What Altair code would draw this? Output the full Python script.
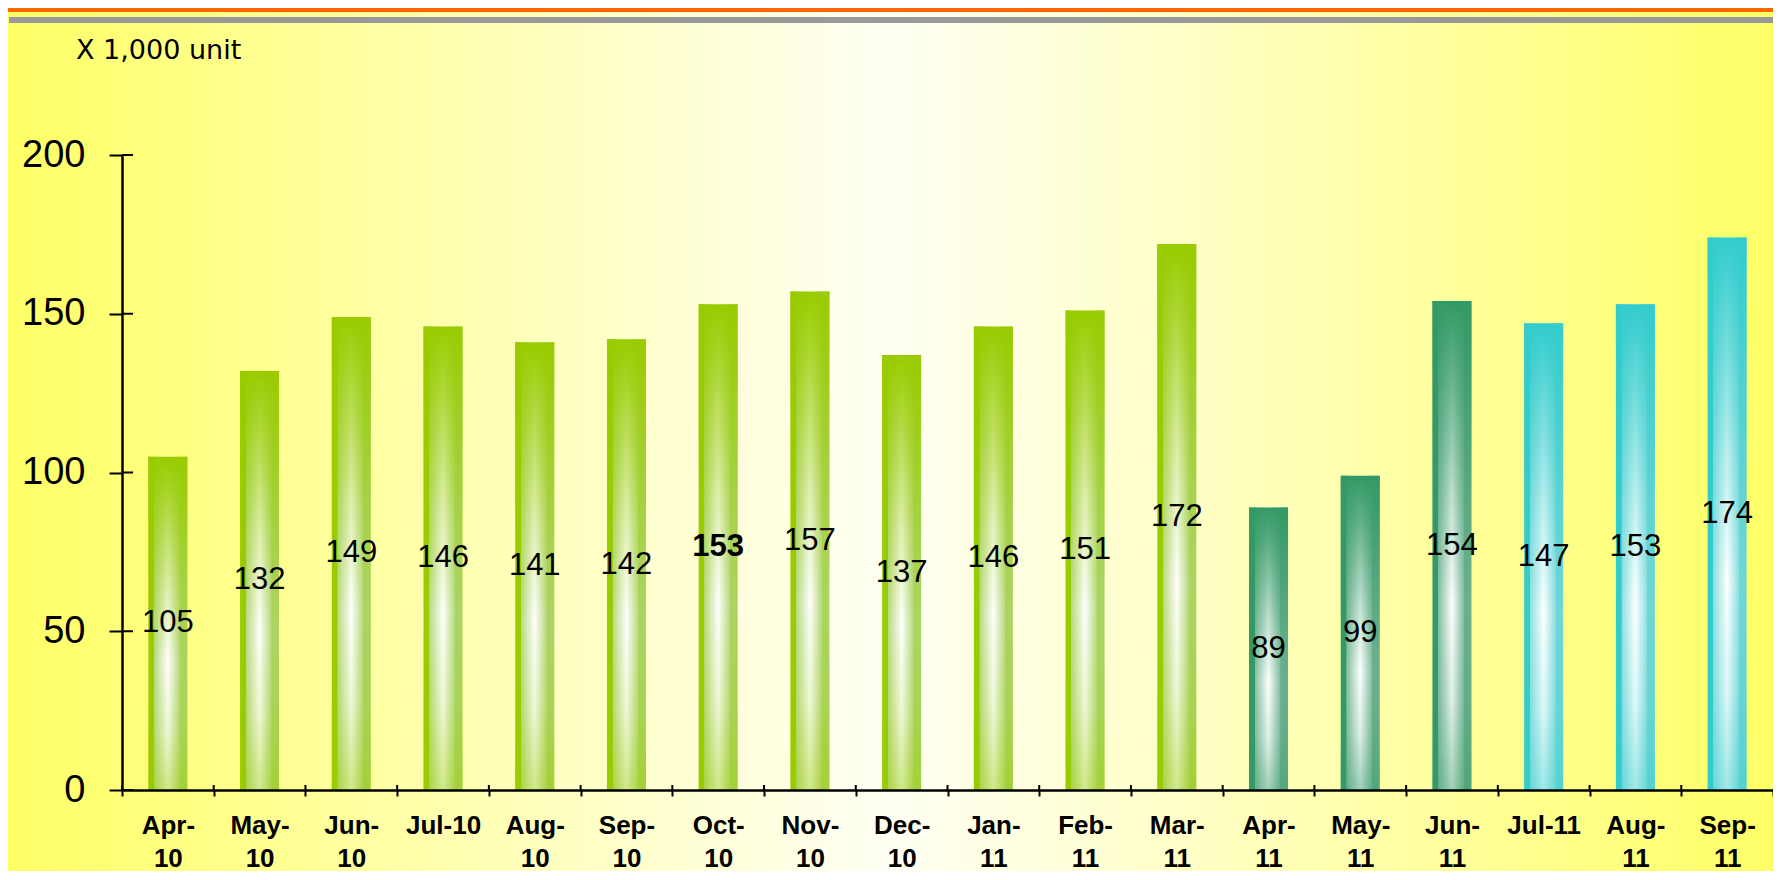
import altair as alt
import pandas as pd

# ---- data ----
months = ["Apr-10", "May-10", "Jun-10", "Jul-10", "Aug-10", "Sep-10", "Oct-10", "Nov-10",
          "Dec-10", "Jan-11", "Feb-11", "Mar-11", "Apr-11", "May-11", "Jun-11", "Jul-11",
          "Aug-11", "Sep-11"]
values = [105, 132, 149, 146, 141, 142, 153, 157, 137, 146, 151, 172, 89, 99, 154, 147, 153, 174]
groups = ["g1", "g1", "g1", "g1", "g1", "g1", "g1", "g1", "g1", "g1", "g1", "g1",
          "g2", "g2", "g2", "g3", "g3", "g3"]
single_line_labels = ["Jul-10", "Jul-11"]
bold_labels = ["Oct-10"]
y_ticks = [0, 50, 100, 150, 200]
unit_text = "X 1,000 unit"

df = pd.DataFrame({"month": months, "value": values, "grp": groups})

W, H = 1651, 635
PAD_L, PAD_T, PAD_B = 114, 147, 81

# ---- styling ----
palette = {
    "g1": {"c": "#99cc00", "rgb": (153, 204, 0), "edge": "#b8da80", "right": "#acd463"},
    "g2": {"c": "#339966", "rgb": (51, 153, 102), "edge": "#86bfa2", "right": "#6cb08d"},
    "g3": {"c": "#33cccc", "rgb": (51, 204, 204), "edge": "#8fe0e0", "right": "#70d6d6"},
}


def hgrad(p):
    return {
        "gradient": "linear", "x1": 0, "x2": 1, "y1": 0, "y2": 0,
        "stops": [
            {"offset": 0.0, "color": p["c"]},
            {"offset": 0.14, "color": p["c"]},
            {"offset": 0.15, "color": p["edge"]},
            {"offset": 0.5, "color": "#ffffff"},
            {"offset": 0.8, "color": p["edge"]},
            {"offset": 0.81, "color": p["right"]},
            {"offset": 1.0, "color": p["right"]},
        ],
    }


def vgrad(p):
    r, g, b = p["rgb"]

    def rgba(a):
        return f"rgba({r},{g},{b},{a})"
    return {
        "gradient": "linear", "x1": 0, "x2": 0, "y1": 0, "y2": 1,
        "stops": [
            {"offset": 0.0, "color": rgba(1.0)},
            {"offset": 0.12, "color": rgba(0.8)},
            {"offset": 0.4, "color": rgba(0.3)},
            {"offset": 0.62, "color": rgba(0.0)},
            {"offset": 0.82, "color": rgba(0.15)},
            {"offset": 1.0, "color": rgba(0.45)},
        ],
    }


bg_grad = {
    "gradient": "linear", "x1": 0, "x2": 1, "y1": 0, "y2": 0,
    "stops": [
        {"offset": 0.0, "color": "#ffff66"},
        {"offset": 0.25, "color": "#ffffb0"},
        {"offset": 0.5, "color": "#fffff4"},
        {"offset": 0.75, "color": "#ffffb0"},
        {"offset": 1.0, "color": "#ffff66"},
    ],
}

single_list = "[" + ",".join(f"'{s}'" for s in single_line_labels) + "]"
label_expr = ("datum.value == null ? '' : "
              f"indexof({single_list}, datum.value) >= 0 ? datum.value : "
              "[split(datum.value, '-')[0] + '-', split(datum.value, '-')[1]]")

x_axis = alt.Axis(
    title=None, labelAngle=0, labelExpr=label_expr, labelFont="Liberation Sans",
    labelFontWeight="bold", labelFontSize=26, labelColor="black", labelPadding=16,
    labelBaseline="top", labelLineHeight=33, labelOverlap=False, labelLimit=0,
    tickBand="extent", tickSize=6, tickWidth=2, tickColor="black",
    domainColor="black", domainWidth=2.5, zindex=2,
)
y_axis = alt.Axis(
    title=None, values=y_ticks, labelFont="Liberation Sans", labelFontSize=38,
    labelColor="black", labelPadding=24, tickSize=13, tickWidth=2, tickColor="black",
    domainColor="black", domainWidth=2.5, grid=False, zindex=2,
)
x_scale = alt.Scale(domain=months, paddingInner=0, paddingOuter=0)
y_scale = alt.Scale(domain=[0, 200], nice=False)

X = alt.X("month:N", sort=months, scale=x_scale, axis=x_axis)

one = alt.Data(values=[{"k": 1}])

background = alt.Chart(one).mark_rect(fill=bg_grad).encode(
    x=alt.value(-PAD_L), x2=alt.value(W), y=alt.value(-PAD_T), y2=alt.value(H + PAD_B)
)
orange_line = alt.Chart(one).mark_rect(fill="#ff6600").encode(
    x=alt.value(-PAD_L), x2=alt.value(W), y=alt.value(-PAD_T), y2=alt.value(-PAD_T + 4)
)
gray_line = alt.Chart(one).mark_rect(fill="#999999").encode(
    x=alt.value(-PAD_L + 1), x2=alt.value(W), y=alt.value(-PAD_T + 9), y2=alt.value(-PAD_T + 15)
)
unit_label = alt.Chart(one).mark_text(
    text=unit_text, font="DejaVu Sans", fontSize=27, color="black", align="left",
    baseline="middle"
).encode(x=alt.value(-46), y=alt.value(-PAD_T + 43))

layers = [background, orange_line, gray_line, unit_label]

for g, p in palette.items():
    base = alt.Chart(df).transform_filter(alt.datum.grp == g)
    layers.append(base.mark_bar(size=39, fill=hgrad(p)).encode(
        x=X, y=alt.Y("value:Q", scale=y_scale, axis=y_axis)))
    layers.append(base.mark_bar(size=39, fill=vgrad(p)).encode(
        x=X, y=alt.Y("value:Q", scale=y_scale, axis=y_axis)))

label_base = alt.Chart(df).transform_calculate(half="datum.value / 2")
label_enc = dict(
    x=X,
    y=alt.Y("half:Q", scale=y_scale, axis=y_axis),
    text=alt.Text("value:Q"),
)
labels_normal = label_base.transform_filter(
    ~alt.FieldOneOfPredicate(field="month", oneOf=bold_labels)
).mark_text(
    font="Liberation Sans", fontSize=31, color="black", baseline="middle", align="center"
).encode(**label_enc)
labels_bold = label_base.transform_filter(
    alt.FieldOneOfPredicate(field="month", oneOf=bold_labels)
).mark_text(
    font="Liberation Sans", fontSize=31, fontWeight="bold", color="black",
    baseline="middle", align="center"
).encode(**label_enc)

inner_y_ticks = alt.Chart(pd.DataFrame({"t": y_ticks})).mark_rule(
    color="black", strokeWidth=2
).encode(y=alt.Y("t:Q", scale=y_scale, axis=y_axis), x=alt.value(0), x2=alt.value(11))

inner_x_ticks = alt.Chart(df).mark_rule(color="black", strokeWidth=2).encode(
    x=alt.X("month:N", sort=months, scale=x_scale, axis=x_axis, bandPosition=0),
    y=alt.value(H - 5), y2=alt.value(H),
)

layers += [labels_normal, labels_bold, inner_y_ticks, inner_x_ticks]

chart = alt.layer(*layers).properties(
    width=W, height=H,
    autosize=alt.AutoSizeParams(type="none"),
    padding={"left": PAD_L, "top": PAD_T, "right": 0, "bottom": PAD_B},
    background="#ffffcc",
).configure_view(stroke=None)

chart.save("out.html", embed_options={"renderer": "svg", "actions": False})
